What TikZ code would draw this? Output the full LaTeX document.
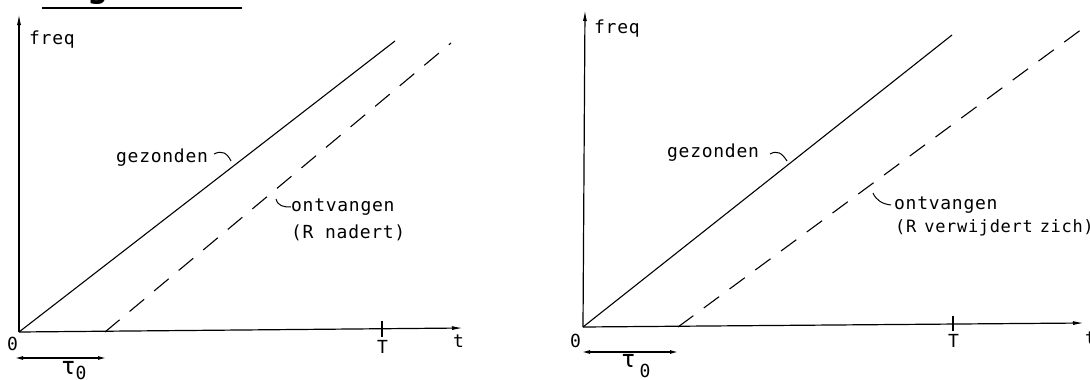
\documentclass[tikz,border=0pt]{standalone}
\usepackage{fontspec}
\setmainfont{DejaVu Sans Mono}[LetterSpace=4]
\usepackage{tikz}
\usetikzlibrary{positioning,arrows.meta}

\begin{document}
\begin{tikzpicture}[
  x=1pt,y=-1pt,
  every node/.style={font=\fontsize{18}{21}\selectfont,inner sep=0pt},
  lbl/.style={anchor=base west},
  ax/.style={line width=1.2pt,-{Latex[length=11pt,width=4pt]}},
  ln/.style={line width=1.1pt},
  dl/.style={line width=1.1pt,dash pattern=on 19pt off 13pt},
  hk/.style={line width=1pt},
  span/.style={line width=1.2pt,{Latex[length=8pt,width=4pt]}-{Latex[length=8pt,width=4pt]}},
  tick/.style={line width=1.2pt}
]
\useasboundingbox (0,0) rectangle (1090,380);
\fill[white] (0,0) rectangle (1090,380);
% titel
\node[lbl,font=\fontsize{34}{36}\selectfont\bfseries] (titel) at (44,-2) {Figuur 16};
\draw[line width=1.8pt] (42,8) -- (242,8);
% linker figuur
\coordinate (oL) at (19,332);
\coordinate (yL) at (19,14);
\coordinate (xL) at (463,328);
\coordinate (sL) at (395,41);
\coordinate (dLa) at (105,332);
\coordinate (dLb) at (451,43);
\draw[ax] (oL) -- (yL);
\draw[ax] (oL) -- (xL);
\draw[ln] (oL) -- (sL);
\draw[dl] (dLa) -- (dLb);
\draw[tick] (382,321) -- (382,337);
\node[lbl] (freqL) at (29,44) {freq};
\node[lbl] (nulL) at (7,350) {0};
\node[lbl] (TL) at (377,353) {T};
\node[lbl] (tL) at (453,347) {t};
\coordinate (tauLa) at (15,358);
\coordinate (tauLb) at (106,358);
\draw[span] (tauLa) -- (tauLb);
\node[lbl,font=\fontsize{24}{26}\selectfont] (tauL) at (61,374) {τ\raisebox{-5pt}{\fontsize{18}{21}\selectfont 0}};
\node[lbl] (gezL) at (116,162) {gezonden};
\draw[hk] (214,154) .. controls (222,150) and (227,153) .. (231,161);
\node[lbl] (ontL) at (291,211) {ontvangen};
\draw[hk] (276,199) .. controls (278,206) and (283,207) .. (291,207);
\node[lbl] (RL) at (291,238) {(R nadert)};
% rechter figuur
\coordinate (oR) at (583,327);
\coordinate (yR) at (585,10);
\coordinate (xR) at (1084,323);
\coordinate (sR) at (952,35);
\coordinate (dRa) at (678,327);
\coordinate (dRb) at (1082,29);
\draw[ax] (oR) -- (yR);
\draw[ax] (oR) -- (xR);
\draw[ln] (oR) -- (sR);
\draw[dl] (dRa) -- (dRb);
\draw[tick] (953,316) -- (953,331);
\node[lbl] (freqR) at (594,34) {freq};
\node[lbl] (nulR) at (570,347) {0};
\node[lbl] (TR) at (948,347) {T};
\node[lbl] (tR) at (1085,344) {t};
\coordinate (tauRa) at (582,352);
\coordinate (tauRb) at (678,352);
\draw[span] (tauRa) -- (tauRb);
\node[lbl,font=\fontsize{24}{26}\selectfont] (tauR) at (621,367) {τ\hspace{4pt}\raisebox{-10pt}{\fontsize{18}{21}\selectfont 0}};
\node[lbl] (gezR) at (667,157) {gezonden};
\draw[hk] (770,154) .. controls (777,150) and (782,153) .. (787,161);
\node[lbl] (ontR) at (894,209) {ontvangen};
\draw[hk] (873,193) .. controls (876,200) and (882,204) .. (891,205);
\node[lbl,font=\fontsize{17}{21}\selectfont] (RR) at (895,232) {(R\hspace{8pt}verwijdert\hspace{7pt}zich)};
\end{tikzpicture}
\end{document}
